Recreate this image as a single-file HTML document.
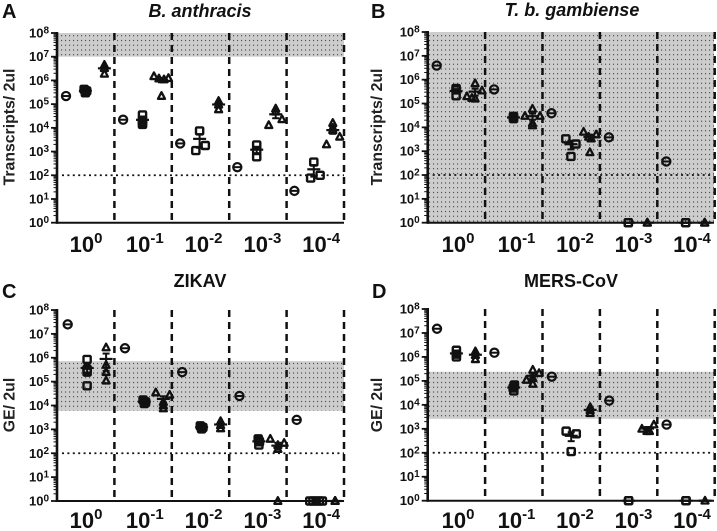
<!DOCTYPE html>
<html lang="en">
<head>
<meta charset="utf-8">
<title>Transcript and genome equivalents by dilution</title>
<style>
  html, body { margin: 0; padding: 0; background: #fff; }
  svg { display: block; font-family: "Liberation Sans", sans-serif; fill: #111; }
  .panel-letter { font-size: 20px; font-weight: bold; }
  .panel-title { font-size: 18px; font-weight: bold; text-anchor: middle; }
  .y-title { font-size: 15.8px; text-anchor: middle; font-weight: bold; fill: #222; }
</style>
</head>
<body>
<svg id="chart" width="717" height="531" viewBox="0 0 717 531" xmlns="http://www.w3.org/2000/svg">
  <defs>
    <pattern id="dots" width="4" height="4.75" patternUnits="userSpaceOnUse">
      <rect width="4" height="4.75" fill="#cdcdcd"></rect>
      <rect x="1" y="2" width="1.1" height="1" fill="#333"></rect>
    </pattern>
  </defs>
  <text class="panel-letter" x="2" y="18">A</text>
  <text class="panel-letter" x="371" y="18">B</text>
  <text class="panel-letter" x="2" y="298">C</text>
  <text class="panel-letter" x="372" y="298">D</text>
  <text class="panel-title" x="200" y="17" font-style="italic">B. anthracis</text>
  <text class="panel-title" x="572" y="16" font-style="italic">T. b. gambiense</text>
  <text class="panel-title" x="200" y="287">ZIKAV</text>
  <text class="panel-title" x="571" y="287">MERS-CoV</text>
  <text class="y-title" transform="translate(14.5,127) rotate(-90)">Transcripts/ 2ul</text>
  <text class="y-title" transform="translate(382,127) rotate(-90)">Transcripts/ 2ul</text>
  <text class="y-title" transform="translate(14.5,405) rotate(-90)">GE/ 2ul</text>
  <text class="y-title" transform="translate(382,405) rotate(-90)">GE/ 2ul</text>
  <g id="panel-a"></g>
  <g id="panel-b"></g>
  <g id="panel-c"></g>
  <g id="panel-d"></g>
</svg>
<script>
// Shared tick labels
const yExponents = [0, 1, 2, 3, 4, 5, 6, 7, 8];
const xExponents = ['0', '-1', '-2', '-3', '-4'];
const thresholdValue = 100;

// Panel A: B. anthracis
const aCircles = [2.2e5, 2.2e4, 2.2e3, 220, 22];
const aSquares = [[4.2e5, 3.6e5, 3e5, 3.8e5], [3.5e4, 2.1e4, 1.7e4, 1.4e4], [7.4e3, 1.1e3, 1.8e3], [1.9e3, 1.1e3, 6e2], [3.6e2, 76, 100]];
const aSquareSlots = [[-0.2, 0.2, 0, 0], [0, 0, 0, 0], [0, -0.6, 0.9], [0, 0, 0], [0, -0.5, 1]];
const aTriangles = [[4.5e6, 3.3e6, 1.9e6], [1.2e6, 1.1e6, 1.5e6, 1.25e6, 2.2e5], [1.35e5, 9.5e4, 6e4], [6.5e4, 4.8e4, 1.3e4, 2.3e4], [1.6e4, 1e4, 8e3, 2e3, 4.2e3]];
const aTriangleSlots = [[0, 0, 0], [-0.4, 0.4, -1.2, 1.1, 0], [0, 0, 0], [0, 0, -1.1, 1, 0], [0, 0, 0, -1, 1.1]];
const aBand = [1e7, 1e8];

// Panel B: T. b. gambiense
const bCircles = [3.9e6, 3.9e5, 3.9e4, 3.8e3, 3.7e2];
const bSquares = [[4.3e5, 3.7e5, 2.1e5], [2.9e4, 2.6e4, 2.3e4], [3.3e3, 2e3, 6e2], [1, 1], [1, 1]];
const bSquareSlots = [[0, 0, 0], [0, 0, 0], [-0.8, 0.8, 0], [0, 0], [0, 0]];
const bTriangles = [[7e5, 2e5, 3.5e5, 1.7e5, 1.6e5], [6e4, 3e4, 3e4, 1.5e4, 1.2e4], [6.5e3, 5e3, 9e2, 4e3, 3.4e3], [1, 1, 1], [1, 1, 1]];
const bTriangleSlots = [[0, -1.3, 1.1, -0.5, 0], [0, -1.2, 1.2, 0, 0], [-1, 1, 0, -0.2, 0.2], [0, 0, 0], [0, 0, 0]];
const bBand = [1, 1e8];

// Panel C: ZIKAV
const cCircles = [2.5e7, 2.5e6, 2.5e5, 2.5e4, 2.5e3];
const cSquares = [[8.5e5, 3.3e5, 2.5e5, 6.7e4], [1.7e4, 1.4e4, 1.2e4, 1.5e4], [1.4e3, 1.2e3, 1.05e3, 1.25e3], [4e2, 3e2, 2.2e2, 3.4e2], [1, 1, 1, 1, 1]];
const cSquareSlots = [[0, 0, 0, 0], [-0.2, 0.2, 0, 0], [-0.2, 0.2, 0, 0], [-0.1, 0.1, 0, 0], [-1, -0.5, 0, 0.5, 1]];
const cTriangles = [[2.7e6, 5e5, 2.5e5, 1.1e5], [3.5e4, 2.8e4, 1.4e4, 7.5e3, 1e4], [2.2e3, 1.5e3, 1.1e3], [4e2, 2.7e2, 2.2e2, 1.5e2, 1], [1, 1, 1]];
const cTriangleSlots = [[0, 0, 0, 0], [-1.2, 1, 0, 0, 0], [0, 0, 0], [-1.2, 1, 0, 0, 0], [0, 0, 0]];
const cBand = [6e3, 7.2e5];

// Panel D: MERS-CoV
const dCircles = [1.5e7, 1.5e6, 1.5e5, 1.5e4, 1.5e3];
const dSquares = [[1.9e6, 1.3e6, 1e6], [6.8e4, 5e4, 3.8e4, 5.5e4], [8e2, 6.2e2, 1.12e2], [1, 1], [1, 1]];
const dSquareSlots = [[0, 0, 0], [0.1, -0.1, 0, 0], [-0.8, 0.8, 0], [0, 0], [0, 0]];
const dTriangles = [[1.7e6, 1.2e6, 8e5], [2.9e5, 2.1e5, 1.1e5, 1.3e5, 7.5e4], [8e3, 6e3, 4.5e3], [1e3, 1.5e3, 8e2, 8e2], [1]];
const dTriangleSlots = [[0, 0, 0], [0, 1, -1, 0, 0], [0, 0, 0], [-0.9, 1, -0.1, 0.3], [0]];
const dBand = [2.6e3, 2.4e5];

const svgNS = 'http://www.w3.org/2000/svg';

function mk(tag, attrs, parent, name) {
  const el = document.createElementNS(svgNS, tag);
  Object.keys(attrs).forEach(function (k) { el.setAttributeNS(null, k, attrs[k]); });
  
  
  parent.appendChild(el);
  return el;
}

function meanSem(values) {
  const n = values.length;
  const mean = values.reduce(function (a, b) { return a + b; }, 0) / n;
  if (n < 2) return { mean: mean, sem: 0 };
  const ss = values.reduce(function (a, b) { return a + (b - mean) * (b - mean); }, 0);
  return { mean: mean, sem: Math.sqrt(ss / (n - 1)) / Math.sqrt(n) };
}

function drawPanel(p) {
  const g = document.getElementById(p.id);
  const yPos = function (v) { return p.bottom - Math.log10(v) * (p.bottom - p.top) / 8; };
  const circleX = function (i) { return p.dataX + i * p.groupStep; };
  const squareX = function (i) { return circleX(i) + 19.4; };
  const triangleX = function (i) { return circleX(i) + 38.4; };
  const slotPx = 6.3;

  // shaded reference band
  mk('rect', { x: p.axisX, y: yPos(p.band[1]), width: p.right - p.axisX, height: yPos(p.band[0]) - yPos(p.band[1]), fill: 'url(#dots)' }, g, 'reference-band');

  // threshold line
  mk('line', { x1: p.axisX + 5, x2: p.right, y1: yPos(thresholdValue), y2: yPos(thresholdValue), stroke: '#111', 'stroke-width': 1.8, 'stroke-dasharray': '2 3.4' }, g, 'threshold-line');

  // dashed group dividers
  xExponents.forEach(function (e, i) {
    const x = p.axisX + (i + 1) * 57.4;
    mk('line', { x1: x, x2: x, y1: p.top, y2: p.bottom, stroke: '#111', 'stroke-width': 2.5, 'stroke-dasharray': '7 5' }, g, 'group-divider');
  });

  // y axis, ticks, labels
  mk('line', { x1: p.axisX, x2: p.axisX, y1: p.top - 1, y2: p.bottom + 1, stroke: '#111', 'stroke-width': 2.6 }, g, 'y-axis-line');
  mk('line', { x1: p.axisX - 1, x2: p.right, y1: p.bottom, y2: p.bottom, stroke: '#111', 'stroke-width': 2 }, g, 'x-axis-line');
  yExponents.forEach(function (e) {
    const y = yPos(Math.pow(10, e));
    mk('line', { x1: p.axisX - 6, x2: p.axisX, y1: y, y2: y, stroke: '#111', 'stroke-width': 1.8 }, g, 'y-major-tick');
    if (e < 8) {
      for (let m = 2; m < 10; m++) {
        const ym = yPos(m * Math.pow(10, e));
        mk('line', { x1: p.axisX - 3.5, x2: p.axisX, y1: ym, y2: ym, stroke: '#111', 'stroke-width': 1 }, g, 'y-minor-tick');
      }
    }
    const t = mk('text', { x: p.axisX - 28, y: y + 4.5, 'font-size': 13, 'font-weight': 'bold' }, g, 'y-tick-label');
    t.textContent = '10';
    const s = mk('tspan', { dy: -4, 'font-size': 10 }, t, 'y-tick-exponent');
    s.textContent = String(e);
  });

  // x labels
  xExponents.forEach(function (e, i) {
    const t = mk('text', { x: p.labelX + i * p.labelStep, y: p.labelY, 'font-size': 22, 'font-weight': 'bold', 'text-anchor': 'middle' }, g, 'x-tick-label');
    t.textContent = '10';
    const s = mk('tspan', { dy: -9, 'font-size': 15 }, t, 'x-tick-exponent');
    s.textContent = e;
  });

  // circles
  p.circles.forEach(function (v, i) {
    const x = circleX(i), y = yPos(v);
    mk('circle', { cx: x, cy: y, r: 4.1, fill: 'none', stroke: '#111', 'stroke-width': 2.2 }, g, 'circle-point');
    mk('line', { x1: x - 4, x2: x + 4, y1: y, y2: y, stroke: '#111', 'stroke-width': 2 }, g, 'circle-mean-line');
  });

  function errorBars(values, x) {
    const st = meanSem(values);
    const ym = yPos(st.mean);
    const hi = yPos(st.mean + st.sem);
    const lo = yPos(Math.max(st.mean - st.sem, 1));
    mk('line', { x1: x - 6.5, x2: x + 6.5, y1: ym, y2: ym, stroke: '#111', 'stroke-width': 2.2 }, g, 'mean-line');
    mk('line', { x1: x, x2: x, y1: hi, y2: lo, stroke: '#111', 'stroke-width': 2 }, g, 'error-bar');
    mk('line', { x1: x - 3.5, x2: x + 3.5, y1: hi, y2: hi, stroke: '#111', 'stroke-width': 2 }, g, 'error-cap-upper');
    mk('line', { x1: x - 3.5, x2: x + 3.5, y1: lo, y2: lo, stroke: '#111', 'stroke-width': 2 }, g, 'error-cap-lower');
  }

  // squares
  p.squares.forEach(function (vals, i) {
    const cx = squareX(i);
    vals.forEach(function (v, k) {
      const x = cx + p.squareSlots[i][k] * slotPx, y = yPos(v);
      mk('rect', { x: x - 3.6, y: y - 3.5, width: 7.2, height: 7, rx: 1, fill: 'none', stroke: '#111', 'stroke-width': 2.4 }, g, 'square-point');
    });
    errorBars(vals, cx);
  });

  // triangles
  p.triangles.forEach(function (vals, i) {
    const cx = triangleX(i);
    vals.forEach(function (v, k) {
      const x = cx + p.triangleSlots[i][k] * slotPx, y = yPos(v);
      const pts = [x, y - 3.8, x + 3.5, y + 2.8, x - 3.5, y + 2.8].join(' ');
      mk('polygon', { points: pts, fill: 'none', stroke: '#111', 'stroke-width': 2.3, 'stroke-linejoin': 'round' }, g, 'triangle-point');
    });
    errorBars(vals, cx);
  });
}

drawPanel({ id: 'panel-a', axisX: 57, right: 344, top: 33, bottom: 222.7, dataX: 66, groupStep: 57.1, labelX: 86, labelStep: 58.8, labelY: 252,
  circles: aCircles, squares: aSquares, squareSlots: aSquareSlots, triangles: aTriangles, triangleSlots: aTriangleSlots, band: aBand });
drawPanel({ id: 'panel-b', axisX: 427.7, right: 714, top: 32, bottom: 222.7, dataX: 436.7, groupStep: 57.4, labelX: 458, labelStep: 58.5, labelY: 252,
  circles: bCircles, squares: bSquares, squareSlots: bSquareSlots, triangles: bTriangles, triangleSlots: bTriangleSlots, band: bBand });
drawPanel({ id: 'panel-c', axisX: 57, right: 344, top: 310, bottom: 501, dataX: 67.7, groupStep: 57.25, labelX: 86, labelStep: 58.8, labelY: 528,
  circles: cCircles, squares: cSquares, squareSlots: cSquareSlots, triangles: cTriangles, triangleSlots: cTriangleSlots, band: cBand });
drawPanel({ id: 'panel-d', axisX: 427.7, right: 714, top: 309, bottom: 500.7, dataX: 437, groupStep: 57.4, labelX: 458, labelStep: 58.5, labelY: 528,
  circles: dCircles, squares: dSquares, squareSlots: dSquareSlots, triangles: dTriangles, triangleSlots: dTriangleSlots, band: dBand });
</script>
</body>
</html>
